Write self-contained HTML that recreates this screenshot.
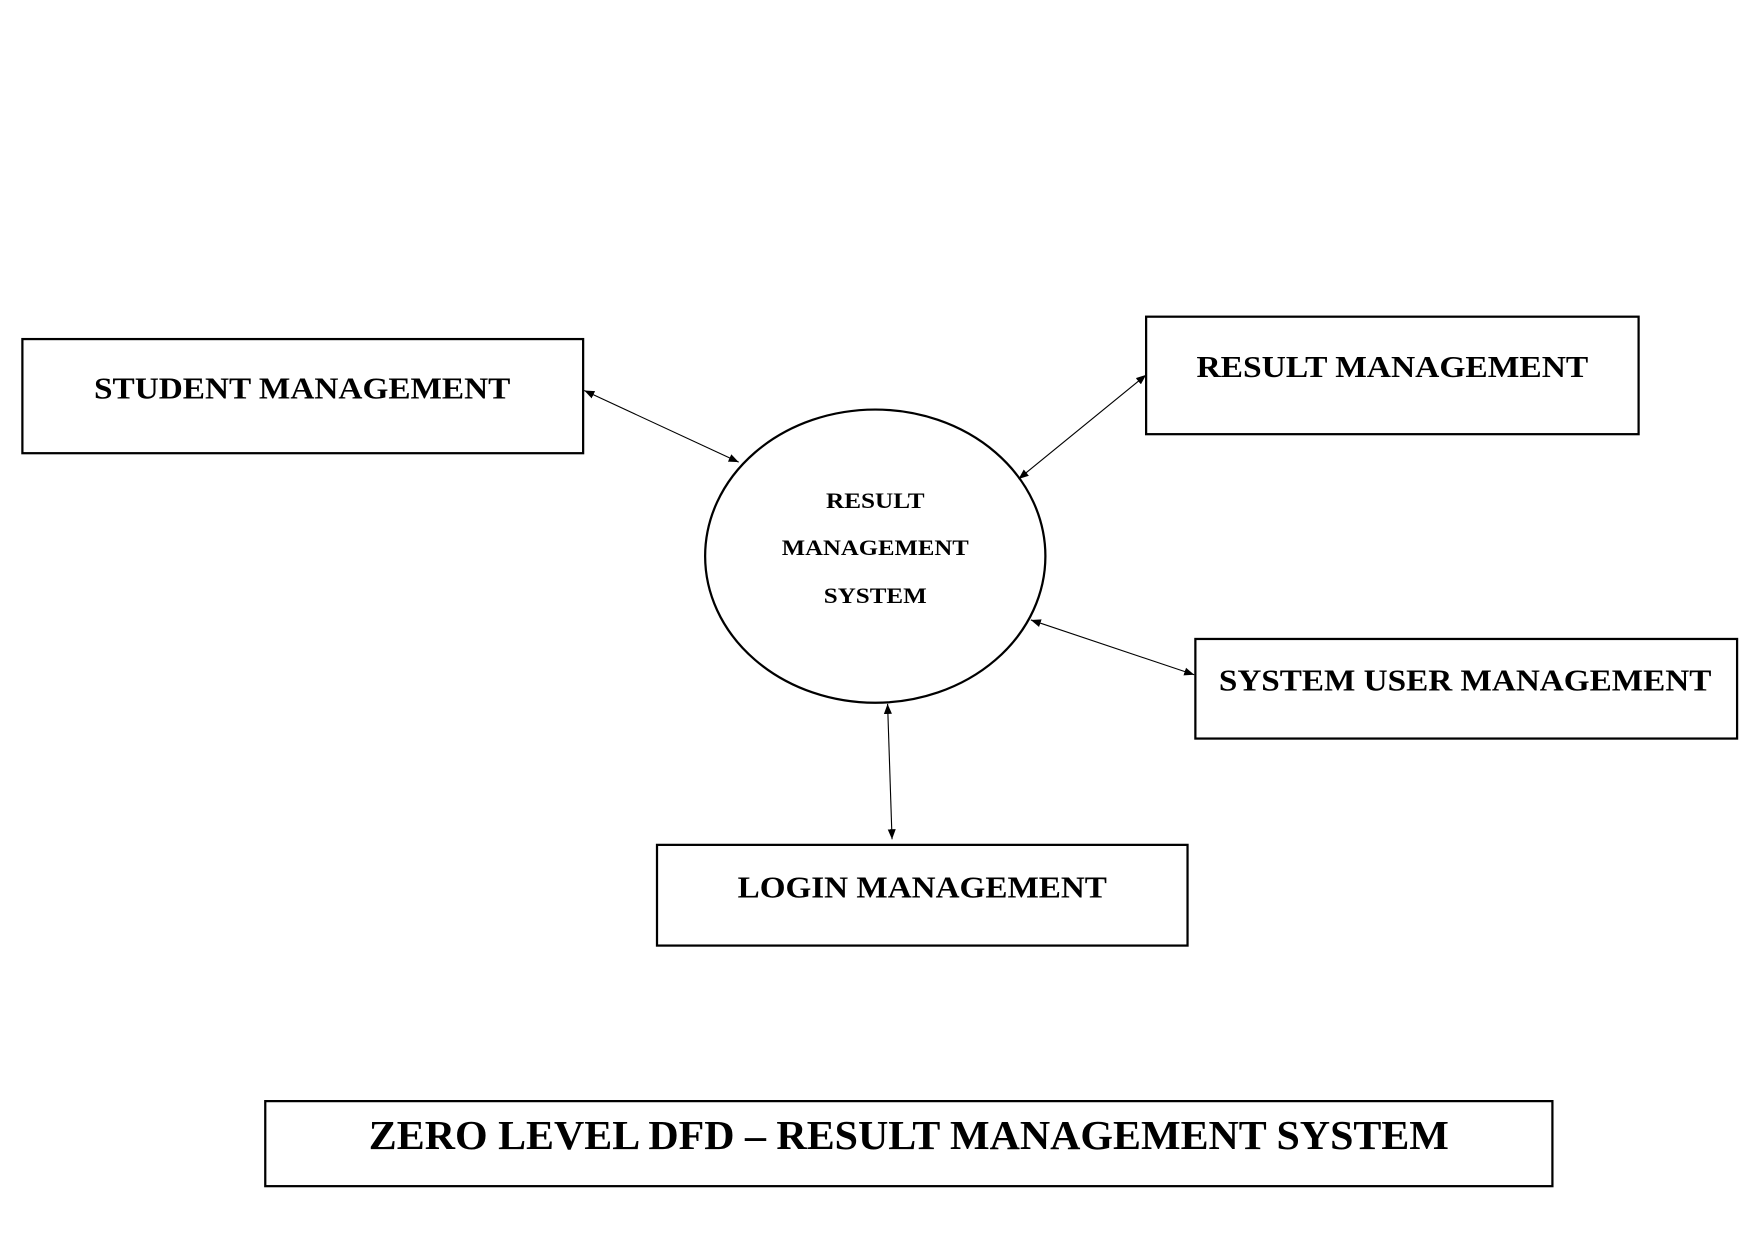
<!DOCTYPE html>
<html><head><meta charset="utf-8"><style>
html,body{margin:0;padding:0;background:#fff;}
svg{display:block;}
text{font-family:"Liberation Serif",serif;font-weight:bold;fill:#000;text-anchor:middle;}
</style></head><body>
<svg width="1755" height="1241" viewBox="0 0 1568 1109" preserveAspectRatio="none" xmlns="http://www.w3.org/2000/svg">
<defs>
<marker id="a" viewBox="0 0 10 10" refX="10" refY="5" markerWidth="9" markerHeight="9" orient="auto-start-reverse" markerUnits="userSpaceOnUse">
<path d="M0,1 L10,5 L0,9 z" fill="#000"/></marker>
</defs>
<g fill="none" stroke="#000" stroke-width="2">
<rect x="20" y="303" width="501" height="102"/>
<rect x="1024" y="283" width="440" height="105"/>
<rect x="1068" y="571" width="484" height="89"/>
<rect x="587" y="755" width="474" height="90"/>
<rect x="237" y="984" width="1150" height="76"/>
<ellipse cx="782" cy="497" rx="152" ry="131"/>
</g>
<g stroke="#000" stroke-width="1" marker-start="url(#a)" marker-end="url(#a)">
<line x1="522" y1="349" x2="660" y2="413"/>
<line x1="1024" y1="335" x2="910" y2="428"/>
<line x1="921" y1="554" x2="1067" y2="603"/>
<line x1="793" y1="629" x2="797" y2="750"/>
</g>
<text x="270" y="356" font-size="27" textLength="372" lengthAdjust="spacingAndGlyphs">STUDENT MANAGEMENT</text>
<text x="1244" y="337" font-size="27" textLength="350" lengthAdjust="spacingAndGlyphs">RESULT MANAGEMENT</text>
<text x="1309" y="617" font-size="27" textLength="440" lengthAdjust="spacingAndGlyphs">SYSTEM USER MANAGEMENT</text>
<text x="824" y="802" font-size="27" textLength="330" lengthAdjust="spacingAndGlyphs">LOGIN MANAGEMENT</text>
<text x="782" y="454" font-size="20" textLength="88" lengthAdjust="spacingAndGlyphs">RESULT</text>
<text x="782" y="496" font-size="20" textLength="167" lengthAdjust="spacingAndGlyphs">MANAGEMENT</text>
<text x="782" y="539" font-size="20" textLength="92" lengthAdjust="spacingAndGlyphs">SYSTEM</text>
<text x="812" y="1027" font-size="37" textLength="965" lengthAdjust="spacingAndGlyphs">ZERO LEVEL DFD – RESULT MANAGEMENT SYSTEM</text>
</svg>
</body></html>
